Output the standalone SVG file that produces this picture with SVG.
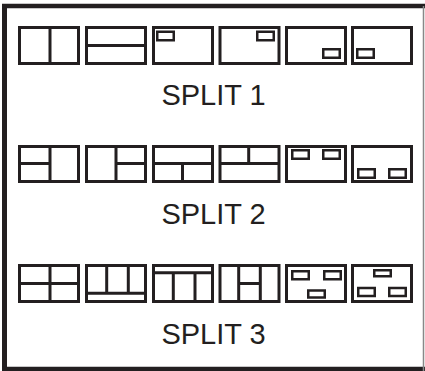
<svg xmlns="http://www.w3.org/2000/svg" width="425" height="371" viewBox="0 0 425 371">
<style>
.b{fill:none;stroke:#231f20;stroke-width:3}
.s{fill:none;stroke:#231f20;stroke-width:2.5}
.l{stroke:#231f20;stroke-width:3;fill:none}
.t{font-family:"Liberation Sans",Arial,sans-serif;font-size:29px;fill:#231f20;text-anchor:middle}
</style>
<rect width="425" height="371" fill="#fff"/>
<g id="frame">
<path d="M4.5,4V371" stroke="#231f20" stroke-width="5" fill="none"/>
<path d="M2,6H425" stroke="#231f20" stroke-width="4.5" fill="none"/>
<path d="M2,369H425" stroke="#231f20" stroke-width="4.5" fill="none"/>
<path d="M423.5,6V371" stroke="#888" stroke-width="1.5" fill="none"/>
</g>
<!-- Row 1 -->
<g id="r1b1"><rect class="b" x="19.5" y="27.5" width="59" height="36"/><path class="l" d="M50,27.5V63.5"/></g>
<g id="r1b2"><rect class="b" x="86.5" y="27.5" width="59" height="36"/><path class="l" d="M86.5,45.5H145.5"/></g>
<g id="r1b3"><rect class="b" x="153.5" y="27.5" width="59" height="36"/><rect class="s" x="157.25" y="31.75" width="16.5" height="8.5"/></g>
<g id="r1b4"><rect class="b" x="220" y="27.5" width="59" height="36"/><rect class="s" x="257.25" y="31.75" width="16.5" height="8.5"/></g>
<g id="r1b5"><rect class="b" x="286.5" y="27.5" width="59" height="36"/><rect class="s" x="323.25" y="49.25" width="16.5" height="8.5"/></g>
<g id="r1b6"><rect class="b" x="352.5" y="27.5" width="59" height="36"/><rect class="s" x="357.25" y="49.25" width="16.5" height="8.5"/></g>
<text class="t" x="213.5" y="105">SPLIT 1</text>
<!-- Row 2 -->
<g id="r2b1"><rect class="b" x="19.5" y="146.5" width="59" height="35"/><path class="l" d="M50,146.5V181.5M19.5,163.5H50"/></g>
<g id="r2b2"><rect class="b" x="86.5" y="146.5" width="59" height="35"/><path class="l" d="M116,146.5V181.5M116,163.5H145.5"/></g>
<g id="r2b3"><rect class="b" x="153.5" y="146.5" width="59" height="35"/><path class="l" d="M153.5,163.5H212.5M182.5,163.5V181.5"/></g>
<g id="r2b4"><rect class="b" x="220" y="146.5" width="59" height="35"/><path class="l" d="M220,163.5H279M248.7,146.5V163.5"/></g>
<g id="r2b5"><rect class="b" x="286.5" y="146.5" width="59" height="35"/><rect class="s" x="292.25" y="150.25" width="16.5" height="8.5"/><rect class="s" x="323.25" y="150.25" width="16.5" height="8.5"/></g>
<g id="r2b6"><rect class="b" x="352.5" y="146.5" width="59" height="35"/><rect class="s" x="358.25" y="169.25" width="16.5" height="8.5"/><rect class="s" x="389.25" y="169.25" width="16.5" height="8.5"/></g>
<text class="t" x="213.5" y="224">SPLIT 2</text>
<!-- Row 3 -->
<g id="r3b1"><rect class="b" x="19.5" y="265.5" width="59" height="36"/><path class="l" d="M50,265.5V301.5M19.5,283.5H78.5"/></g>
<g id="r3b2"><rect class="b" x="86.5" y="265.5" width="59" height="36"/><path class="l" d="M86.5,293.3H145.5M106.7,265.5V293.3M128.3,265.5V293.3"/></g>
<g id="r3b3"><rect class="b" x="153.5" y="265.5" width="59" height="36"/><path class="l" d="M153.5,272.7H212.5M173.3,272.7V301.5M195,272.7V301.5"/></g>
<g id="r3b4"><rect class="b" x="220" y="265.5" width="59" height="36"/><path class="l" d="M238.7,265.5V301.5M260.3,265.5V301.5M238.7,283.5H260.3"/></g>
<g id="r3b5"><rect class="b" x="286.5" y="265.5" width="59" height="36"/><rect class="s" x="292.25" y="271.25" width="16.5" height="8"/><rect class="s" x="324.25" y="271.25" width="16.5" height="8"/><rect class="s" x="308.25" y="290.5" width="16.5" height="7"/></g>
<g id="r3b6"><rect class="b" x="352.5" y="265.5" width="59" height="36"/><rect class="s" x="374.25" y="270.25" width="16.5" height="6"/><rect class="s" x="358.25" y="288" width="16.5" height="8"/><rect class="s" x="389.25" y="288" width="16.5" height="8"/></g>
<text class="t" x="213.5" y="344">SPLIT 3</text>
</svg>
